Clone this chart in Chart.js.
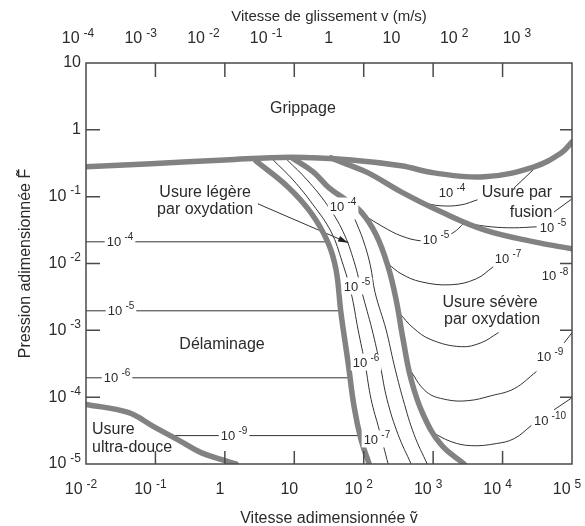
<!DOCTYPE html>
<html>
<head>
<meta charset="utf-8">
<script src="https://cdn.jsdelivr.net/npm/chart.js@4.4.1/dist/chart.umd.min.js"></script>
<style>
  html, body { margin: 0; padding: 0; background: #fff; }
</style>
</head>
<body>
<canvas id="wearMap" width="585" height="526"></canvas>
<script>
// axis ticks ('^' marks the exponent)
const vTicks = [1e-2, 1e-1, 1, 10, 1e2, 1e3, 1e4, 1e5];
const vTickLabels = ['10^-2', '10^-1', '1', '10', '10^2', '10^3', '10^4', '10^5'];
const slideTicks = [1e-4, 1e-3, 1e-2, 1e-1, 1, 10, 1e2, 1e3];
const slideTickLabels = ['10^-4', '10^-3', '10^-2', '10^-1', '1', '10', '10^2', '10^3'];
const pTicks = [1e-5, 1e-4, 1e-3, 1e-2, 1e-1, 1, 10];
const pTickLabels = ['10^-5', '10^-4', '10^-3', '10^-2', '10^-1', '1', '10'];
const innerV = [1e-1, 1, 10, 1e2, 1e3, 1e4];
const innerP = [1e-4, 1e-3, 1e-2, 1e-1, 1];

// mechanism boundaries (thick)
const seizureV = [0.01, 0.0865, 1.0, 9, 66, 346, 1030, 5430, 28500, 69800, 1e5];
const seizureF = [0.28, 0.31, 0.355, 0.39, 0.355, 0.29, 0.227, 0.198, 0.28, 0.45, 0.66];
const mildLowV = [2.8, 8.1, 17.5, 30.7, 40, 47, 59.6, 72.7, 91.7, 120];
const mildLowF = [0.343, 0.14, 0.057, 0.0204, 0.008, 0.00183, 3.28e-4, 7.2e-5, 2.3e-5, 1.0e-5];
const mildHighV = [9.3, 18.7, 31.7, 55.7, 91.8, 151, 225, 293, 370, 482, 718, 1300, 2800];
const mildHighF = [0.38, 0.235, 0.1355, 0.0895, 0.0593, 0.0269, 0.0089, 0.00287, 7.2e-4, 1.83e-4, 5.5e-5, 1.95e-5, 1.0e-5];
const meltV = [33.9, 55.7, 116, 346, 1300, 5430, 28500, 1e5];
const meltF = [0.38, 0.31, 0.227, 0.118, 0.0593, 0.0319, 0.0211, 0.0166];
const ultraV = [0.01, 0.0403, 0.0955, 0.212, 0.454, 1.11, 1.45];
const ultraF = [7.8e-5, 5.9e-5, 3.6e-5, 2.3e-5, 1.48e-5, 1.09e-5, 1.0e-5];

// wear-rate contours (thin)
const h4V = [0.01, 31.7], h4F = [0.0211, 0.0211];
const h5V = [0.01, 45.7], h5F = [0.00196, 0.00196];
const h6V = [0.01, 63.7], h6F = [1.95e-4, 1.95e-4];
const h9V = [0.18, 83], h9F = [2.66e-5, 2.66e-5];
const band1V = [4.95, 9.6, 18.7, 33.9, 48.9, 65.8, 83, 105, 128, 167, 225];
const band1F = [0.355, 0.178, 0.0754, 0.0298, 0.0106, 0.00365, 0.00102, 3.06e-4, 9.2e-5, 3.27e-5, 1.0e-5];
const band2V = [7.9, 15.3, 29.7, 50.5, 72.8, 94.8, 132, 172, 217, 313, 482];
const band2F = [0.355, 0.178, 0.0754, 0.0298, 0.0106, 0.00365, 0.00102, 3.06e-4, 9.2e-5, 2.75e-5, 1.0e-5];
const band3V = [75.2, 98, 124, 146, 210, 274, 370, 532, 820];
const band3F = [0.045, 0.0226, 0.00957, 0.00365, 0.00102, 3.06e-4, 9.2e-5, 2.75e-5, 1.0e-5];
const c5midV = [105, 190, 346, 671, 1140, 1940, 2800];
const c5midF = [0.0516, 0.0354, 0.0259, 0.0218, 0.0226, 0.0288, 0.0406];
const c4meltV = [718, 1300, 2530, 4300];
const c4meltF = [0.0807, 0.0729, 0.0754, 0.0895];
const c5rightV = [3300, 6850, 14200, 30500];
const c5rightF = [0.0392, 0.0354, 0.0342, 0.0354];
const c7V = [225, 346, 671, 1816, 4170, 7330];
const c7F = [0.0099, 0.00702, 0.00532, 0.00481, 0.0059, 0.00893];
const c8V = [324, 515, 935, 2530, 4920, 8650];
const c8F = [0.00183, 0.00109, 7.24e-4, 5.69e-4, 6.53e-4, 9.2e-4];
const c9V = [451, 793, 1540, 3190, 6850, 14700, 30500];
const c9F = [2.67e-4, 1.21e-4, 9.2e-5, 8.87e-5, 1.05e-4, 1.34e-4, 2.4e-4];
const c10V = [935, 1816, 3530, 8090, 14700, 25800];
const c10F = [3.05e-5, 2.16e-5, 1.88e-5, 2.02e-5, 2.4e-5, 3.75e-5];
const leadParV = [14700, 27600], leadParF = [0.1355, 0.252];
const leadFusionV = [55400, 1e5], leadFusionF = [0.0593, 0.0927];
const lead9V = [77300, 1e5], lead9F = [6.53e-4, 9.2e-4];
const lead10V = [55400, 1e5], lead10F = [6.5e-5, 9.8e-5];
const arrowV = [3.0, 59.6], arrowF = [0.078, 0.0204];

// text on the map
const regionLabels = [
  {t: 'Grippage', v: 13.3, f: 2.05, align: 'center'},
  {t: 'Usure légère', v: 0.52, f: 0.1135, align: 'center'},
  {t: 'par oxydation', v: 0.52, f: 0.063, align: 'center'},
  {t: 'Usure par', v: 16100, f: 0.1135, align: 'center'},
  {t: 'fusion', v: 25700, f: 0.0569, align: 'center'},
  {t: 'Usure sévère', v: 6590, f: 0.00256, align: 'center'},
  {t: 'par oxydation', v: 7050, f: 0.001425, align: 'center'},
  {t: 'Délaminage', v: 0.91, f: 6.03e-4, align: 'center'},
  {t: 'Usure', v: 0.0122, f: 3.24e-5, align: 'left'},
  {t: 'ultra-douce', v: 0.0122, f: 1.74e-5, align: 'left'}
];
const rateLabels = [
  {t: '10^-4', v: 0.0309, f: 0.021},
  {t: '10^-5', v: 0.0319, f: 0.00195},
  {t: '10^-6', v: 0.028, f: 1.94e-4},
  {t: '10^-9', v: 1.355, f: 2.62e-5},
  {t: '10^-4', v: 50.4, f: 0.07},
  {t: '10^-5', v: 80, f: 0.00445},
  {t: '10^-6', v: 108, f: 3.24e-4},
  {t: '10^-7', v: 155, f: 2.29e-5},
  {t: '10^-4', v: 1870, f: 0.1135},
  {t: '10^-5', v: 1100, f: 0.0224},
  {t: '10^-5', v: 53200, f: 0.034},
  {t: '10^-7', v: 12000, f: 0.01167},
  {t: '10^-8', v: 56900, f: 0.0063},
  {t: '10^-9', v: 48200, f: 4.0e-4},
  {t: '10^-10', v: 48200, f: 4.4e-5}
];

const FONT = '"Liberation Sans", Arial, Helvetica, sans-serif';
const INK = '#2b2b2b';

function curve(vs, fs, thick, smooth) {
  return {
    data: vs.map((v, i) => ({x: v, y: fs[i]})),
    borderColor: thick ? '#828282' : '#333',
    borderWidth: thick ? 5.5 : 1,
    tension: smooth ? 0.4 : 0,
    pointRadius: 0,
    borderCapStyle: 'round',
    fill: false
  };
}

const datasets = [
  curve(seizureV, seizureF, true, true),
  curve(mildLowV, mildLowF, true, true),
  curve(mildHighV, mildHighF, true, true),
  curve(meltV, meltF, true, true),
  curve(ultraV, ultraF, true, true),
  curve(h4V, h4F, false, false),
  curve(h5V, h5F, false, false),
  curve(h6V, h6F, false, false),
  curve(h9V, h9F, false, false),
  curve(band1V, band1F, false, true),
  curve(band2V, band2F, false, true),
  curve(band3V, band3F, false, true),
  curve(c5midV, c5midF, false, true),
  curve(c4meltV, c4meltF, false, true),
  curve(c5rightV, c5rightF, false, true),
  curve(c7V, c7F, false, true),
  curve(c8V, c8F, false, true),
  curve(c9V, c9F, false, true),
  curve(c10V, c10F, false, true),
  curve(leadParV, leadParF, false, false),
  curve(leadFusionV, leadFusionF, false, false),
  curve(lead9V, lead9F, false, false),
  curve(lead10V, lead10F, false, false),
  curve(arrowV, arrowF, false, false)
];
const arrowIndex = datasets.length - 1;

// "10^-4" -> 10 with a raised, smaller exponent
function drawPow(ctx, label, px, py, size, align, boxed) {
  const [base, exp] = label.split('^');
  const esize = Math.round(size * 0.75);
  ctx.textBaseline = 'middle';
  ctx.textAlign = 'left';
  ctx.font = size + 'px ' + FONT;
  const w1 = ctx.measureText(base).width;
  let w2 = 0, gap = 0;
  if (exp) {
    ctx.font = esize + 'px ' + FONT;
    w2 = ctx.measureText(exp).width;
    gap = size * 0.25;
  }
  const w = w1 + gap + w2;
  const left = align === 'left' ? px : align === 'right' ? px - w : px - w / 2;
  if (boxed) {
    ctx.fillStyle = '#fff';
    ctx.fillRect(left - 2, py - size / 2 - 3, w + 4, size + 4);
  }
  ctx.fillStyle = INK;
  ctx.font = size + 'px ' + FONT;
  ctx.fillText(base, left, py);
  if (exp) {
    ctx.font = esize + 'px ' + FONT;
    ctx.fillText(exp, left + w1 + gap, py - size * 0.36);
  }
}

function putText(ctx, txt, px, py, size, align) {
  ctx.font = size + 'px ' + FONT;
  ctx.textAlign = align;
  ctx.textBaseline = 'middle';
  ctx.fillStyle = INK;
  ctx.fillText(txt, px, py);
}

const mapDecor = {
  id: 'mapDecor',
  afterDatasetsDraw(chart) {
    const {ctx, chartArea: a, scales: {x, x2, y}} = chart;
    ctx.save();
    ctx.strokeStyle = '#4a4a4a';
    ctx.lineWidth = 1.5;
    ctx.strokeRect(a.left, a.top, a.right - a.left, a.bottom - a.top);
    ctx.beginPath();
    innerV.forEach(v => {
      const px = x.getPixelForValue(v);
      ctx.moveTo(px, a.top); ctx.lineTo(px, a.top + 14);
      ctx.moveTo(px, a.bottom); ctx.lineTo(px, a.bottom - 13);
    });
    innerP.forEach(f => {
      const py = y.getPixelForValue(f);
      ctx.moveTo(a.left, py); ctx.lineTo(a.left + 14, py);
      ctx.moveTo(a.right, py); ctx.lineTo(a.right - 12, py);
    });
    ctx.stroke();

    // tick labels, placed by the scales
    vTicks.forEach((v, i) => drawPow(ctx, vTickLabels[i], x.getPixelForValue(v) - 5, a.bottom + 26, 16, 'center', false));
    slideTicks.forEach((v, i) => drawPow(ctx, slideTickLabels[i], x2.getPixelForValue(v), a.top - 24, 16, 'center', false));
    pTicks.forEach((f, i) => drawPow(ctx, pTickLabels[i], a.left - 5, y.getPixelForValue(f), 16, 'right', false));

    // arrow head at the end of the leader
    const pts = chart.getDatasetMeta(arrowIndex).data;
    const p0 = pts[0], p1 = pts[pts.length - 1];
    const ang = Math.atan2(p1.y - p0.y, p1.x - p0.x);
    ctx.fillStyle = '#222';
    ctx.beginPath();
    ctx.moveTo(p1.x, p1.y);
    ctx.lineTo(p1.x - 10 * Math.cos(ang) + 3 * Math.sin(ang), p1.y - 10 * Math.sin(ang) - 3 * Math.cos(ang));
    ctx.lineTo(p1.x - 10 * Math.cos(ang) - 3 * Math.sin(ang), p1.y - 10 * Math.sin(ang) + 3 * Math.cos(ang));
    ctx.closePath();
    ctx.fill();

    rateLabels.forEach(l => drawPow(ctx, l.t, x.getPixelForValue(l.v), y.getPixelForValue(l.f), 13, 'center', true));
    regionLabels.forEach(l => putText(ctx, l.t, x.getPixelForValue(l.v), y.getPixelForValue(l.f), 16, l.align));
    ctx.restore();
  }
};

new Chart(document.getElementById('wearMap'), {
  type: 'line',
  data: {datasets},
  options: {
    responsive: false,
    animation: false,
    layout: {padding: {left: 0, right: 13, top: 0, bottom: 0}},
    plugins: {legend: {display: false}, tooltip: {enabled: false}},
    scales: {
      x: {
        type: 'logarithmic', position: 'bottom', min: 1e-2, max: 1e5,
        afterBuildTicks: s => { s.ticks = vTicks.map(v => ({value: v})); },
        afterFit: s => { s.height = 62; s.paddingLeft = 0; s.paddingRight = 0; },
        grid: {display: false, drawTicks: false},
        border: {display: false},
        ticks: {display: false},
        title: {display: true, text: 'Vitesse adimensionnée ṽ', color: INK,
          font: {family: FONT, size: 16, lineHeight: 1}, padding: {top: 0, bottom: -1}}
      },
      x2: {
        type: 'logarithmic', position: 'top', display: true, min: 1.343e-4, max: 7568,
        afterBuildTicks: s => { s.ticks = slideTicks.map(v => ({value: v})); },
        afterFit: s => { s.height = 63; s.paddingLeft = 0; s.paddingRight = 0; },
        grid: {display: false, drawTicks: false},
        border: {display: false},
        ticks: {display: false},
        title: {display: true, text: 'Vitesse de glissement v (m/s)', color: INK,
          font: {family: FONT, size: 15, lineHeight: 1}, padding: {top: 9, bottom: 0}}
      },
      y: {
        type: 'logarithmic', min: 1e-5, max: 10,
        afterBuildTicks: s => { s.ticks = pTicks.map(v => ({value: v})); },
        afterFit: s => { s.width = 86; s.paddingTop = 0; s.paddingBottom = 0; },
        grid: {display: false, drawTicks: false},
        border: {display: false},
        ticks: {display: false},
        title: {display: true, text: 'Pression adimensionnée F\u0303', color: INK,
          font: {family: FONT, size: 16, lineHeight: 1}, padding: {top: 18, bottom: 0}}
      }
    }
  },
  plugins: [mapDecor]
});
</script>
</body>
</html>
